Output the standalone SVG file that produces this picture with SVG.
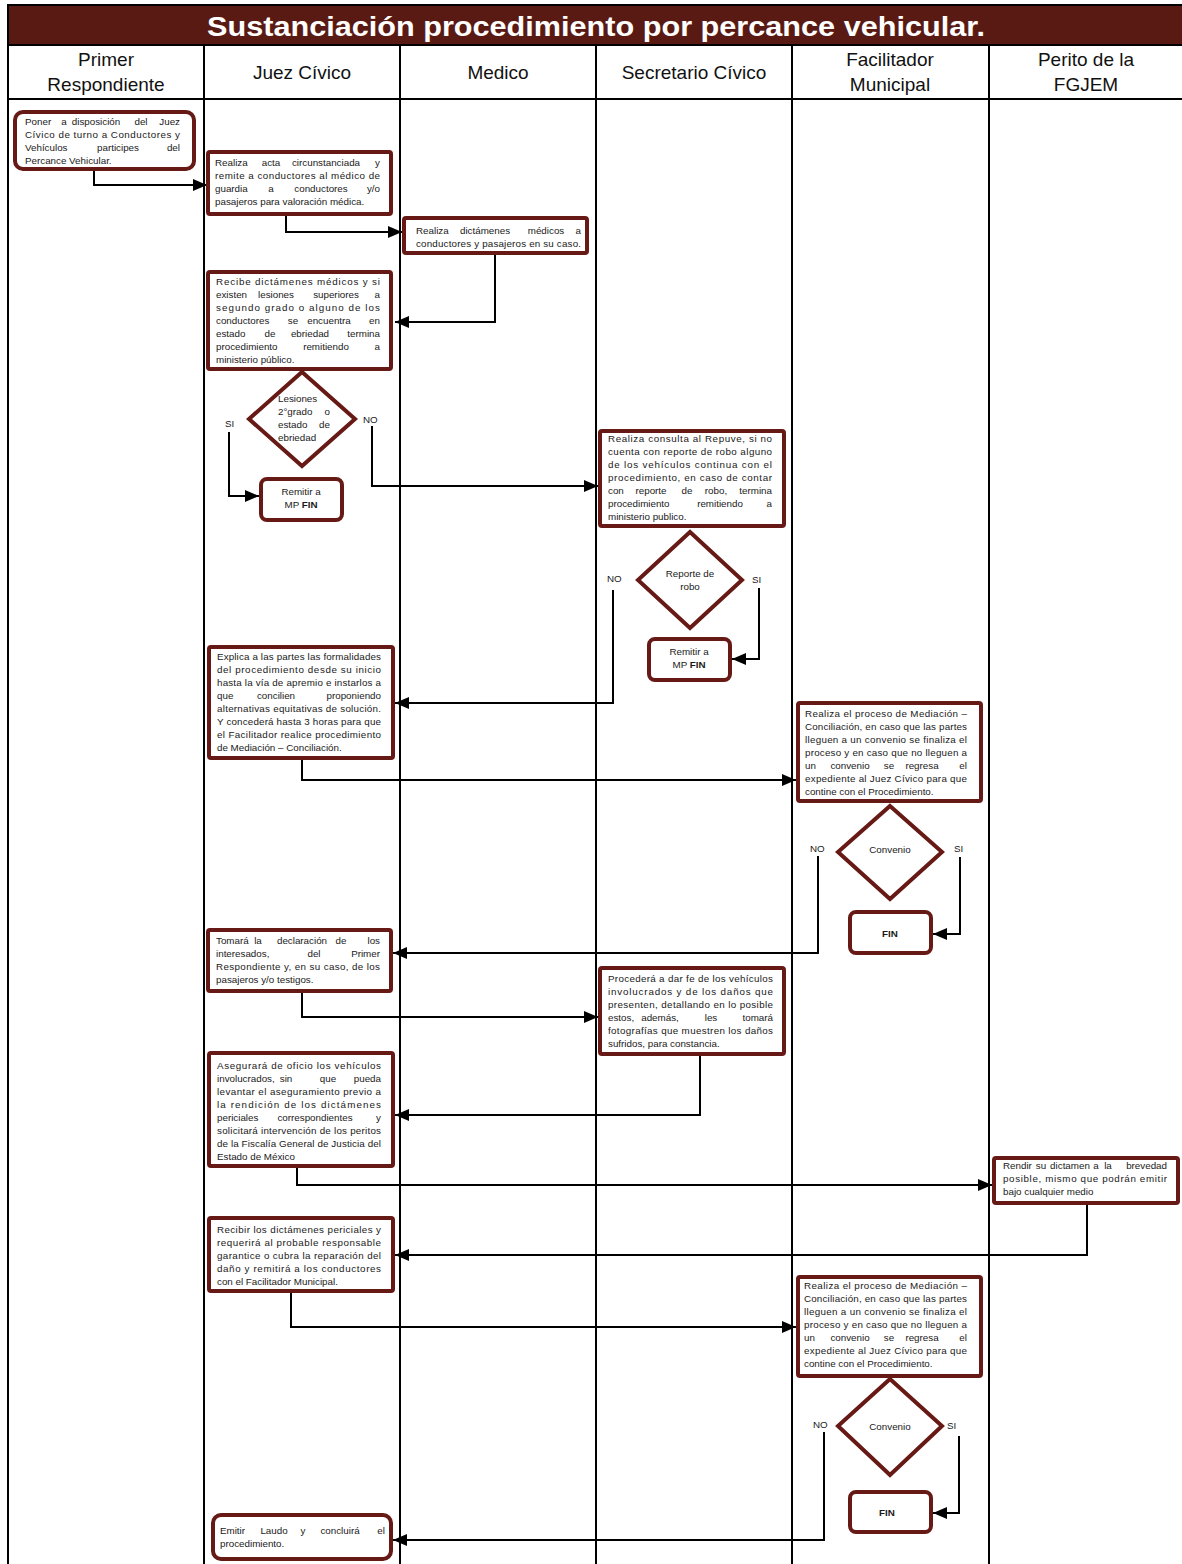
<svg xmlns="http://www.w3.org/2000/svg" width="1182" height="1564" viewBox="0 0 1182 1564">
<style>
.lane{stroke:#000;stroke-width:2;fill:none}
.box{fill:#fff;stroke:#661915;stroke-width:4}
.dia{fill:#fff;stroke:#661915;stroke-width:4;stroke-linejoin:miter}
.con{fill:none;stroke:#000;stroke-width:2;marker-end:url(#arr)}
.t{font-family:"Liberation Sans",Arial,sans-serif;font-size:9.8px;fill:#1a1a1a}
.m{text-anchor:middle}
.e{text-anchor:end}
.b{font-weight:bold}
.h{font-family:"Liberation Sans",Arial,sans-serif;font-size:19px;fill:#111;text-anchor:middle}
.title{font-family:"Liberation Sans",Arial,sans-serif;font-size:28px;font-weight:bold;fill:#fff;text-anchor:middle}
</style>
<defs>
<marker id="arr" viewBox="0 0 14 12" markerWidth="14" markerHeight="12" markerUnits="userSpaceOnUse" refX="14" refY="6" orient="auto">
<path d="M0,0 L14,6 L0,12 z" fill="#000"/>
</marker>
</defs>
<rect width="1182" height="1564" fill="#fff"/>
<g id="header">
<rect x="8" y="5" width="1176" height="40" fill="#5a1a14" stroke="#000" stroke-width="2"/>
<text class="title" x="596" y="36" textLength="778" lengthAdjust="spacingAndGlyphs">Sustanciación procedimiento por percance vehicular.</text>
<text class="h" x="106" y="66">Primer</text>
<text class="h" x="106" y="91">Respondiente</text>
<text class="h" x="302" y="79">Juez Cívico</text>
<text class="h" x="498" y="79">Medico</text>
<text class="h" x="694" y="79">Secretario Cívico</text>
<text class="h" x="890" y="66">Facilitador</text>
<text class="h" x="890" y="91">Municipal</text>
<text class="h" x="1086" y="66">Perito de la</text>
<text class="h" x="1086" y="91">FGJEM</text>
</g>
<g id="lanes">
<line class="lane" x1="8" y1="99" x2="1182" y2="99"/>
<line class="lane" x1="8" y1="45" x2="8" y2="1564"/>
<line class="lane" x1="204" y1="45" x2="204" y2="1564"/>
<line class="lane" x1="400" y1="45" x2="400" y2="1564"/>
<line class="lane" x1="596" y1="45" x2="596" y2="1564"/>
<line class="lane" x1="792" y1="45" x2="792" y2="1564"/>
<line class="lane" x1="989" y1="45" x2="989" y2="1564"/>
</g>
<g id="connectors">
<path class="con" d="M94 171 V185 H207"/>
<path class="con" d="M286 214 V232 H402"/>
<path class="con" d="M495 253 V322 H395"/>
<path class="con" d="M229 432 V496 H259"/>
<path class="con" d="M372 426 V486 H598"/>
<path class="con" d="M613 590 V703 H395"/>
<path class="con" d="M759 588 V659 H732"/>
<path class="con" d="M302 758 V780 H796"/>
<path class="con" d="M818 856 V953 H393"/>
<path class="con" d="M960 857 V934 H933"/>
<path class="con" d="M302 991 V1017 H598"/>
<path class="con" d="M700 1054 V1115 H395"/>
<path class="con" d="M297 1166 V1185 H992"/>
<path class="con" d="M1087 1203 V1255 H395"/>
<path class="con" d="M291 1291 V1327 H796"/>
<path class="con" d="M824 1432 V1540 H393"/>
<path class="con" d="M959 1436 V1513 H933"/>
<text class="t" x="225" y="427">SI</text>
<text class="t" x="363" y="423">NO</text>
<text class="t" x="607" y="582">NO</text>
<text class="t" x="752" y="583">SI</text>
<text class="t" x="810" y="852">NO</text>
<text class="t" x="954" y="852">SI</text>
<text class="t" x="813" y="1428">NO</text>
<text class="t" x="947" y="1429">SI</text>
</g>
<g id="n1">
<rect class="box" x="15" y="112" width="179" height="57" rx="8"/>
<text class="t" y="125"><tspan x="25">Poner</tspan><tspan class="m" x="64">a</tspan><tspan class="m" x="96">disposición</tspan><tspan class="m" x="141">del</tspan><tspan class="e" x="180">Juez</tspan></text>
<text class="t" x="25" y="138" textLength="155" lengthAdjust="spacing">Cívico de turno a Conductores y</text>
<text class="t" y="151"><tspan x="25">Vehículos</tspan><tspan class="m" x="118">participes</tspan><tspan class="e" x="180">del</tspan></text>
<text class="t" x="25" y="164">Percance Vehicular.</text>
</g>
<g id="n2">
<rect class="box" x="208" y="152" width="183" height="62" rx="2"/>
<text class="t" y="166"><tspan x="215">Realiza</tspan><tspan class="m" x="271">acta</tspan><tspan class="m" x="326">circunstanciada</tspan><tspan class="e" x="380">y</tspan></text>
<text class="t" x="215" y="179" textLength="165" lengthAdjust="spacing">remite a conductores al médico de</text>
<text class="t" y="192"><tspan x="215">guardia</tspan><tspan class="m" x="271">a</tspan><tspan class="m" x="321">conductores</tspan><tspan class="e" x="380">y/o</tspan></text>
<text class="t" x="215" y="205">pasajeros para valoración médica.</text>
</g>
<g id="n3">
<rect class="box" x="404" y="218" width="183" height="35" rx="2"/>
<text class="t" y="234"><tspan x="416">Realiza</tspan><tspan class="m" x="485">dictámenes</tspan><tspan class="m" x="546">médicos</tspan><tspan class="e" x="581">a</tspan></text>
<text class="t" x="416" y="247" textLength="165" lengthAdjust="spacing">conductores y pasajeros en su caso.</text>
</g>
<g id="n4">
<rect class="box" x="208" y="272" width="183" height="97" rx="2"/>
<text class="t" x="216" y="285" textLength="164" lengthAdjust="spacing">Recibe dictámenes médicos y si</text>
<text class="t" y="298"><tspan x="216">existen</tspan><tspan class="m" x="276">lesiones</tspan><tspan class="m" x="336">superiores</tspan><tspan class="e" x="380">a</tspan></text>
<text class="t" x="216" y="311" textLength="164" lengthAdjust="spacing">segundo grado o alguno de los</text>
<text class="t" y="324"><tspan x="216">conductores</tspan><tspan class="m" x="293">se</tspan><tspan class="m" x="329">encuentra</tspan><tspan class="e" x="380">en</tspan></text>
<text class="t" y="337"><tspan x="216">estado</tspan><tspan class="m" x="270">de</tspan><tspan class="m" x="310">ebriedad</tspan><tspan class="e" x="380">termina</tspan></text>
<text class="t" y="350"><tspan x="216">procedimiento</tspan><tspan class="m" x="326">remitiendo</tspan><tspan class="e" x="380">a</tspan></text>
<text class="t" x="216" y="363">ministerio público.</text>
</g>
<g id="d1">
<polygon class="dia" points="302,372 355,419 302,466 249,419"/>
<text class="t" x="278" y="402">Lesiones</text>
<text class="t" y="415"><tspan x="278">2°grado</tspan><tspan class="e" x="330">o</tspan></text>
<text class="t" y="428"><tspan x="278">estado</tspan><tspan class="e" x="330">de</tspan></text>
<text class="t" x="278" y="441">ebriedad</text>
</g>
<g id="n6">
<rect class="box" x="261" y="479" width="81" height="41" rx="6"/>
<text class="t m" x="301" y="495">Remitir a</text>
<text class="t m" x="301" y="508">MP <tspan class="b">FIN</tspan></text>
</g>
<g id="n7">
<rect class="box" x="600" y="431" width="184" height="95" rx="2"/>
<text class="t" x="608" y="442" textLength="164" lengthAdjust="spacing">Realiza consulta al Repuve, si no</text>
<text class="t" x="608" y="455" textLength="164" lengthAdjust="spacing">cuenta con reporte de robo alguno</text>
<text class="t" x="608" y="468" textLength="164" lengthAdjust="spacing">de los vehículos continua con el</text>
<text class="t" x="608" y="481" textLength="164" lengthAdjust="spacing">procedimiento, en caso de contar</text>
<text class="t" y="494"><tspan x="608">con</tspan><tspan class="m" x="651">reporte</tspan><tspan class="m" x="687">de</tspan><tspan class="m" x="716">robo,</tspan><tspan class="e" x="772">termina</tspan></text>
<text class="t" y="507"><tspan x="608">procedimiento</tspan><tspan class="m" x="720">remitiendo</tspan><tspan class="e" x="772">a</tspan></text>
<text class="t" x="608" y="520">ministerio publico.</text>
</g>
<g id="d2">
<polygon class="dia" points="690,532 742,580 690,628 638,580"/>
<text class="t m" x="690" y="577">Reporte de</text>
<text class="t m" x="690" y="590">robo</text>
</g>
<g id="n9">
<rect class="box" x="649" y="639" width="81" height="41" rx="6"/>
<text class="t m" x="689" y="655">Remitir a</text>
<text class="t m" x="689" y="668">MP <tspan class="b">FIN</tspan></text>
</g>
<g id="n10">
<rect class="box" x="209" y="647" width="184" height="111" rx="2"/>
<text class="t" x="217" y="660" textLength="164" lengthAdjust="spacing">Explica a las partes las formalidades</text>
<text class="t" x="217" y="673" textLength="164" lengthAdjust="spacing">del procedimiento desde su inicio</text>
<text class="t" x="217" y="686" textLength="164" lengthAdjust="spacing">hasta la vía de apremio e instarlos a</text>
<text class="t" y="699"><tspan x="217">que</tspan><tspan class="m" x="276">concilien</tspan><tspan class="e" x="381">proponiendo</tspan></text>
<text class="t" x="217" y="712" textLength="164" lengthAdjust="spacing">alternativas equitativas de solución.</text>
<text class="t" x="217" y="725" textLength="164" lengthAdjust="spacing">Y concederá hasta 3 horas para que</text>
<text class="t" x="217" y="738" textLength="164" lengthAdjust="spacing">el Facilitador realice procedimiento</text>
<text class="t" x="217" y="751">de Mediación – Conciliación.</text>
</g>
<g id="n11">
<rect class="box" x="798" y="703" width="183" height="98" rx="2"/>
<text class="t" x="805" y="717" textLength="162" lengthAdjust="spacing">Realiza el proceso de Mediación –</text>
<text class="t" x="805" y="730" textLength="162" lengthAdjust="spacing">Conciliación, en caso que las partes</text>
<text class="t" x="805" y="743" textLength="162" lengthAdjust="spacing">lleguen a un convenio se finaliza el</text>
<text class="t" x="805" y="756" textLength="162" lengthAdjust="spacing">proceso y en caso que no lleguen a</text>
<text class="t" y="769"><tspan x="805">un</tspan><tspan class="m" x="850">convenio</tspan><tspan class="m" x="889">se</tspan><tspan class="m" x="922">regresa</tspan><tspan class="e" x="967">el</tspan></text>
<text class="t" x="805" y="782" textLength="162" lengthAdjust="spacing">expediente al Juez Cívico para que</text>
<text class="t" x="805" y="795">contine con el Procedimiento.</text>
</g>
<g id="d3">
<polygon class="dia" points="890,806 942,852 890,899 838,852"/>
<text class="t m" x="890" y="853">Convenio</text>
</g>
<g id="n13">
<rect class="box" x="850" y="912" width="81" height="41" rx="6"/>
<text class="t m b" x="890" y="937">FIN</text>
</g>
<g id="n14">
<rect class="box" x="208" y="930" width="183" height="61" rx="2"/>
<text class="t" y="944"><tspan x="216">Tomará</tspan><tspan class="m" x="258">la</tspan><tspan class="m" x="302">declaración</tspan><tspan class="m" x="341">de</tspan><tspan class="e" x="380">los</tspan></text>
<text class="t" y="957"><tspan x="216">interesados,</tspan><tspan class="m" x="314">del</tspan><tspan class="e" x="380">Primer</tspan></text>
<text class="t" x="216" y="970" textLength="164" lengthAdjust="spacing">Respondiente y, en su caso, de los</text>
<text class="t" x="216" y="983">pasajeros y/o testigos.</text>
</g>
<g id="n15">
<rect class="box" x="600" y="968" width="184" height="86" rx="2"/>
<text class="t" x="608" y="982" textLength="165" lengthAdjust="spacing">Procederá a dar fe de los vehículos</text>
<text class="t" x="608" y="995" textLength="165" lengthAdjust="spacing">involucrados y de los daños que</text>
<text class="t" x="608" y="1008" textLength="165" lengthAdjust="spacing">presenten, detallando en lo posible</text>
<text class="t" y="1021"><tspan x="608">estos,</tspan><tspan class="m" x="660">además,</tspan><tspan class="m" x="711">les</tspan><tspan class="e" x="773">tomará</tspan></text>
<text class="t" x="608" y="1034" textLength="165" lengthAdjust="spacing">fotografías que muestren los daños</text>
<text class="t" x="608" y="1047">sufridos, para constancia.</text>
</g>
<g id="n16">
<rect class="box" x="209" y="1053" width="184" height="113" rx="2"/>
<text class="t" x="217" y="1069" textLength="164" lengthAdjust="spacing">Asegurará de oficio los vehículos</text>
<text class="t" y="1082"><tspan x="217">involucrados,</tspan><tspan class="m" x="286">sin</tspan><tspan class="m" x="328">que</tspan><tspan class="e" x="381">pueda</tspan></text>
<text class="t" x="217" y="1095" textLength="164" lengthAdjust="spacing">levantar el aseguramiento previo a</text>
<text class="t" x="217" y="1108" textLength="164" lengthAdjust="spacing">la rendición de los dictámenes</text>
<text class="t" y="1121"><tspan x="217">periciales</tspan><tspan class="m" x="315">correspondientes</tspan><tspan class="e" x="381">y</tspan></text>
<text class="t" x="217" y="1134" textLength="164" lengthAdjust="spacing">solicitará intervención de los peritos</text>
<text class="t" x="217" y="1147" textLength="164" lengthAdjust="spacing">de la Fiscalía General de Justicia del</text>
<text class="t" x="217" y="1160">Estado de México</text>
</g>
<g id="n17">
<rect class="box" x="994" y="1158" width="184" height="45" rx="2"/>
<text class="t" y="1169"><tspan x="1003">Rendir</tspan><tspan class="m" x="1041">su</tspan><tspan class="m" x="1070">dictamen</tspan><tspan class="m" x="1096">a</tspan><tspan class="m" x="1108">la</tspan><tspan class="e" x="1167">brevedad</tspan></text>
<text class="t" x="1003" y="1182" textLength="164" lengthAdjust="spacing">posible, mismo que podrán emitir</text>
<text class="t" x="1003" y="1195">bajo cualquier medio</text>
</g>
<g id="n18">
<rect class="box" x="209" y="1218" width="184" height="73" rx="2"/>
<text class="t" x="217" y="1233" textLength="164" lengthAdjust="spacing">Recibir los dictámenes periciales y</text>
<text class="t" x="217" y="1246" textLength="164" lengthAdjust="spacing">requerirá al probable responsable</text>
<text class="t" x="217" y="1259" textLength="164" lengthAdjust="spacing">garantice o cubra la reparación del</text>
<text class="t" x="217" y="1272" textLength="164" lengthAdjust="spacing">daño y remitirá a los conductores</text>
<text class="t" x="217" y="1285">con el Facilitador Municipal.</text>
</g>
<g id="n19">
<rect class="box" x="798" y="1277" width="183" height="99" rx="2"/>
<text class="t" x="804" y="1289" textLength="163" lengthAdjust="spacing">Realiza el proceso de Mediación –</text>
<text class="t" x="804" y="1302" textLength="163" lengthAdjust="spacing">Conciliación, en caso que las partes</text>
<text class="t" x="804" y="1315" textLength="163" lengthAdjust="spacing">lleguen a un convenio se finaliza el</text>
<text class="t" x="804" y="1328" textLength="163" lengthAdjust="spacing">proceso y en caso que no lleguen a</text>
<text class="t" y="1341"><tspan x="804">un</tspan><tspan class="m" x="850">convenio</tspan><tspan class="m" x="889">se</tspan><tspan class="m" x="922">regresa</tspan><tspan class="e" x="967">el</tspan></text>
<text class="t" x="804" y="1354" textLength="163" lengthAdjust="spacing">expediente al Juez Cívico para que</text>
<text class="t" x="804" y="1367">contine con el Procedimiento.</text>
</g>
<g id="d4">
<polygon class="dia" points="890,1379 942,1426 890,1475 838,1426"/>
<text class="t m" x="890" y="1430">Convenio</text>
</g>
<g id="n21">
<rect class="box" x="850" y="1492" width="81" height="40" rx="6"/>
<text class="t m b" x="887" y="1516">FIN</text>
</g>
<g id="n22">
<rect class="box" x="213" y="1515" width="178" height="44" rx="8"/>
<text class="t" y="1534"><tspan x="220">Emitir</tspan><tspan class="m" x="274">Laudo</tspan><tspan class="m" x="303">y</tspan><tspan class="m" x="340">concluirá</tspan><tspan class="e" x="385">el</tspan></text>
<text class="t" x="220" y="1547">procedimiento.</text>
</g>
</svg>
